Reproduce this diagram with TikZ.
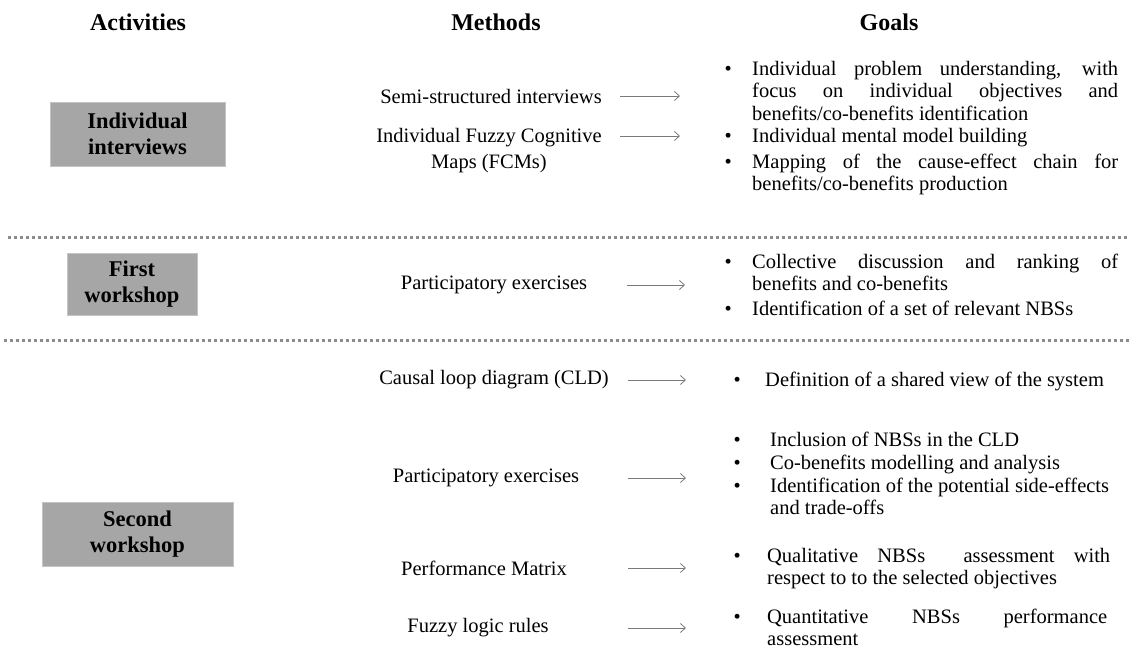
\documentclass[tikz,border=0pt]{standalone}
\usepackage{fontspec}
\setmainfont{Liberation Serif}
\usetikzlibrary{arrows.meta}
\definecolor{actfill}{HTML}{A6A6A6}
\definecolor{actdraw}{HTML}{C4C4C4}
\definecolor{arrowgray}{HTML}{7A7A7A}
\definecolor{dotgray}{HTML}{8C8C8C}
\newcommand\bodyfont{\fontsize{20.5}{22.5}\selectfont}
\newcommand\headfont{\fontsize{24}{28}\selectfont\bfseries}
\newcommand\boxfont{\fontsize{22.5}{28}\selectfont\bfseries}
\newcommand\jl[1]{\makebox[\linewidth][s]{#1}}
\newcommand\bul[1]{\llap{\textbullet\hspace{#1}}}
\newcommand\gl[2]{\parbox[t]{#1}{\bodyfont\parindent=0pt\noindent #2}}
\begin{document}
\begin{tikzpicture}[x=1pt,y=-1pt,
  head/.style={font=\headfont, inner sep=0, anchor=center},
  act/.style={fill=actfill, draw=actdraw, line width=0.7pt, font=\boxfont, align=center, inner sep=0},
  meth/.style={font=\bodyfont, align=center, inner sep=0},
  goal/.style={font=\bodyfont, inner sep=0, anchor=base west},
  arr/.style={draw=arrowgray, line width=0.8pt, -{Straight Barb[length=5pt,width=9pt]}},
  sep/.style={draw=dotgray, line width=3pt, dash pattern=on 3pt off 3pt}]
\useasboundingbox (0,0) rectangle (1130,659);

% headers
\node[head] (h1) at (138,22) {Activities};
\node[head] (h2) at (496,22) {Methods};
\node[head] (h3) at (889,22) {Goals};

% separators
\coordinate (s1a) at (8,237);  \coordinate (s1b) at (1130,237);
\coordinate (s2a) at (4,340);  \coordinate (s2b) at (1130,340);
\draw[sep] (s1a) -- (s1b);
\draw[sep] (s2a) -- (s2b);

% activities
\node[act, minimum width=175pt, minimum height=64pt] (a1) at (137.5,134) {Individual\\[-2pt]interviews};
\node[act, minimum width=130pt, minimum height=62pt] (a2) at (132,284) {First\\[-2pt]workshop};
\node[act, minimum width=191pt, minimum height=64pt] (a3) at (137.5,534) {Second\\[-2pt]workshop};

% methods
\node[meth] (m1) at (491,96) {Semi-structured interviews};
\node[meth, anchor=base] (m2) at (489,168) {Individual Fuzzy Cognitive\\[3.5pt]Maps (FCMs)};
\node[meth] (m3) at (494,285) {Participatory exercises};
\node[meth] (m4) at (494,380) {Causal loop diagram (CLD)};
\node[meth] (m5) at (486,478) {Participatory exercises};
\node[meth] (m6) at (484,568) {Performance Matrix};
\node[meth] (m7) at (478,628) {Fuzzy logic rules};

% arrows
\coordinate (r1s) at (620,96);  \coordinate (r1e) at (680,96);
\coordinate (r2s) at (620,136); \coordinate (r2e) at (680,136);
\coordinate (r3s) at (627,285); \coordinate (r3e) at (685,285);
\coordinate (r4s) at (628,380); \coordinate (r4e) at (686,380);
\coordinate (r5s) at (628,478); \coordinate (r5e) at (686,478);
\coordinate (r6s) at (628,568); \coordinate (r6e) at (686,568);
\coordinate (r7s) at (628,628); \coordinate (r7e) at (686,628);
\foreach \i in {1,...,7} {\draw[arr] (r\i s) -- (r\i e);}

% goals
\node[goal] (g1) at (752,75) {\gl{366pt}{\bul{20.5pt}\jl{Individual problem understanding, with}\\\jl{focus on individual objectives and}\\benefits/co-benefits identification}};
\node[goal] (g2a) at (752,142) {\bul{20.5pt}Individual mental model building};
\node[goal] (g2b) at (752,168) {\gl{366pt}{\bul{20.5pt}\jl{Mapping of the cause-effect chain for}\\benefits/co-benefits production}};
\node[goal] (g3a) at (752,268) {\gl{366pt}{\bul{20.5pt}\jl{Collective discussion and ranking of}\\benefits and co-benefits}};
\node[goal] (g3b) at (752,315) {\bul{20.5pt}Identification of a set of relevant NBSs};
\node[goal] (g4) at (765,386) {\bul{24.5pt}Definition of a shared view of the system};
\node[goal] (g5a) at (770,446) {\bul{29.5pt}Inclusion of NBSs in the CLD};
\node[goal] (g5b) at (770,469) {\bul{29.5pt}Co-benefits modelling and analysis};
\node[goal] (g5c) at (770,492) {\gl{358pt}{\bul{29.5pt}Identification of the potential side-effects\\and trade-offs}};
\node[goal] (g6) at (767,562) {\gl{343pt}{\bul{26.5pt}\jl{Qualitative NBSs\ \ assessment with}\\respect to to the selected objectives}};
\node[goal] (g7) at (767,623) {\gl{340pt}{\bul{26.5pt}\jl{Quantitative NBSs performance}\\assessment}};
\end{tikzpicture}
\end{document}
